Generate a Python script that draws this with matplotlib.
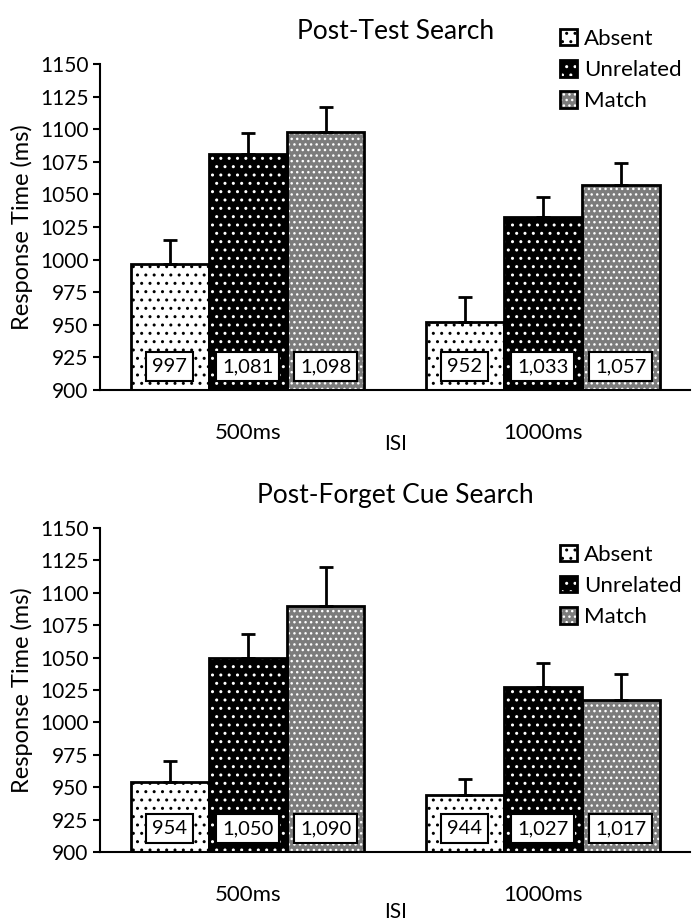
import matplotlib.pyplot as plt
import numpy as np
from matplotlib.patches import Patch

plt.rcParams['font.family'] = ['Lato', 'DejaVu Sans']

# data
isi = ['500ms', '1000ms']
conditions = ['Absent', 'Unrelated', 'Match']

test_absent = [997, 952]
test_unrelated = [1081, 1033]
test_match = [1098, 1057]
test_absent_err = [18, 19]
test_unrelated_err = [16, 15]
test_match_err = [19, 17]

forget_absent = [954, 944]
forget_unrelated = [1050, 1027]
forget_match = [1090, 1017]
forget_absent_err = [16, 12]
forget_unrelated_err = [18, 19]
forget_match_err = [30, 20]

yticks = list(range(900, 1151, 25))

# fill colour, hatch colour, hatch for each condition
styles = [('white', 'black', '..'),
          ('black', 'white', '..'),
          ('#7c7c7c', 'white', '...')]

fig = plt.figure(figsize=(7, 9.23), dpi=100)
ax1 = fig.add_axes([0.143, 0.5775, 0.843, 0.353])
ax2 = fig.add_axes([0.143, 0.0770, 0.843, 0.351])


def draw(ax, title, means, errs, legend_y, isi_y):
    x = np.arange(len(isi))
    w = 0.264
    for i, (vals, err) in enumerate(zip(means, errs)):
        fc, hc, h = styles[i]
        pos = x + (i - 1) * w
        ax.bar(pos, np.array(vals) - 900, w, bottom=900, color=fc,
               edgecolor=hc, hatch=h, linewidth=0, zorder=2)
        ax.bar(pos, np.array(vals) - 900, w, bottom=900, fill=False,
               edgecolor='black', linewidth=2, zorder=3)
        ax.errorbar(pos, vals, yerr=[np.zeros(len(err)), err], fmt='none',
                    ecolor='black', elinewidth=2, capsize=5, capthick=2,
                    zorder=4)
        for p, v in zip(pos, vals):
            ax.text(p, 918, f'{v:,}', ha='center', va='center', fontsize=14.5,
                    zorder=5,
                    bbox=dict(boxstyle='square,pad=0.3', fc='white',
                              ec='black', lw=1.5))
    ax.set_ylim(900, 1150)
    ax.set_xlim(-0.5, 1.5)
    ax.set_yticks(yticks)
    ax.set_xticks(x)
    ax.set_xticklabels(isi, fontsize=16)
    ax.tick_params(axis='x', length=0, pad=24)
    ax.tick_params(axis='y', length=5, width=1.5, labelsize=15)
    for s in ['top', 'right']:
        ax.spines[s].set_visible(False)
    for s in ['left', 'bottom']:
        ax.spines[s].set_linewidth(1.5)
    ax.set_ylabel('Response Time (ms)', fontsize=17, labelpad=5)
    ax.set_title(title, fontsize=19, pad=18)
    ax.set_xlabel('ISI', fontsize=15)
    ax.xaxis.set_label_coords(0.5, isi_y)

    handles = []
    for fc, hc, h in styles:
        handles.append((Patch(facecolor=fc, edgecolor=hc, hatch=h, lw=0),
                        Patch(fill=False, edgecolor='black', lw=2)))
    ax.legend(handles, conditions, loc='upper left',
              bbox_to_anchor=(0.765, legend_y), frameon=False, fontsize=16,
              handlelength=0.75, handleheight=0.75, handletextpad=0.3,
              labelspacing=0.5, borderaxespad=0)


draw(ax1, 'Post-Test Search',
     [test_absent, test_unrelated, test_match],
     [test_absent_err, test_unrelated_err, test_match_err],
     1.135, -0.135)
draw(ax2, 'Post-Forget Cue Search',
     [forget_absent, forget_unrelated, forget_match],
     [forget_absent_err, forget_unrelated_err, forget_match_err],
     0.975, -0.155)

fig.savefig('out.png', dpi=100)
